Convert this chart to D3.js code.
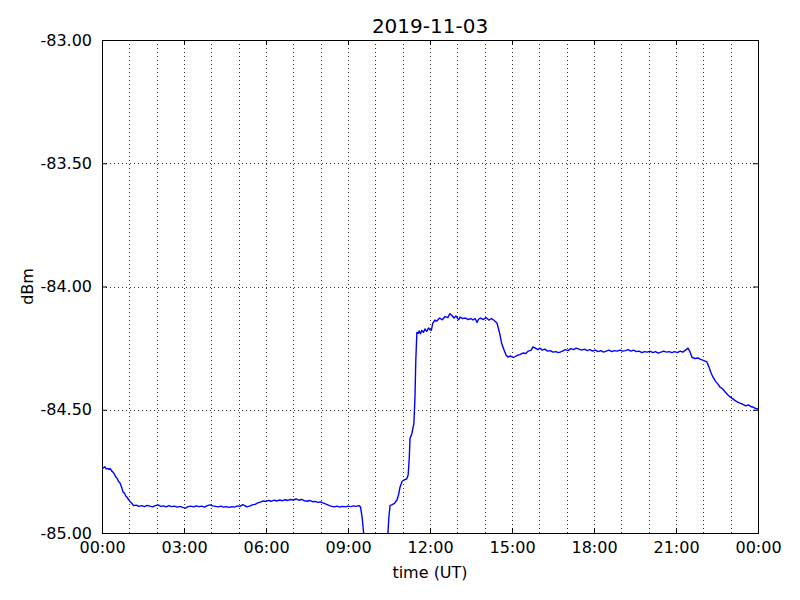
<!DOCTYPE html>
<html>
<head>
<meta charset="utf-8">
<script src="https://cdn.jsdelivr.net/npm/d3@7"></script>
<style>
  html, body { margin: 0; padding: 0; background: #fff; }
  text { font-family: "DejaVu Sans", sans-serif; fill: #000; }
</style>
</head>
<body>
<svg id="chart" width="800" height="600"></svg>
<script>
const title = "2019-11-03";
const xLabel = "time (UT)";
const yLabel = "dBm";
const dayStart = "2019-11-03T00:00:00Z";
const yTickValues = [-85.0, -84.5, -84.0, -83.5, -83.0];

// hours since 00:00 UT
const hours = [
  0.00,0.05,0.10,0.15,0.20,0.25,0.30,0.35,0.40,0.45,0.50,0.55,0.60,0.66,0.72,0.77,0.82,0.87,0.91,0.96,
  1.02,1.10,1.15,1.25,1.35,1.45,1.55,1.65,1.75,1.85,1.95,2.05,2.15,2.25,2.35,2.45,2.55,2.65,2.75,2.85,
  2.95,3.05,3.15,3.25,3.35,3.45,3.55,3.65,3.75,3.85,3.95,4.05,4.15,4.25,4.35,4.45,4.55,4.65,4.75,4.85,
  4.95,5.05,5.15,5.22,5.30,5.40,5.50,5.60,5.70,5.80,5.90,6.00,6.10,6.20,6.30,6.40,6.50,6.60,6.70,6.80,
  6.90,7.00,7.10,7.20,7.30,7.40,7.50,7.60,7.70,7.80,7.90,8.00,8.10,8.20,8.30,8.40,8.50,8.60,8.70,8.80,
  8.90,9.00,9.10,9.20,9.30,9.40,9.46,9.52,9.58,9.62,10.00,10.40,10.46,10.50,10.54,10.60,10.70,10.79,10.85,10.90,
  10.98,11.05,11.15,11.20,11.24,11.27,11.33,11.41,11.45,11.48,11.52,11.57,11.60,11.65,11.70,11.76,11.82,11.88,11.95,12.00,
  12.05,12.10,12.18,12.25,12.35,12.45,12.55,12.65,12.73,12.80,12.88,12.95,13.05,13.10,13.20,13.30,13.40,13.50,13.57,13.65,
  13.72,13.78,13.85,13.95,14.05,14.15,14.25,14.35,14.45,14.55,14.62,14.70,14.78,14.85,14.95,15.05,15.18,15.28,15.40,15.50,
  15.60,15.70,15.77,15.85,15.95,16.02,16.10,16.20,16.30,16.40,16.50,16.60,16.70,16.76,16.85,16.95,17.05,17.15,17.25,17.35,
  17.45,17.55,17.65,17.75,17.85,17.95,18.05,18.15,18.25,18.35,18.45,18.55,18.65,18.75,18.85,18.95,19.05,19.15,19.25,19.35,
  19.45,19.55,19.65,19.75,19.85,19.95,20.05,20.15,20.25,20.35,20.45,20.55,20.65,20.75,20.85,20.95,21.05,21.15,21.25,21.35,
  21.44,21.50,21.59,21.70,21.80,21.90,22.00,22.13,22.20,22.28,22.35,22.45,22.55,22.61,22.70,22.80,22.90,22.98,23.08,23.18,
  23.28,23.34,23.45,23.55,23.65,23.75,23.82,23.90,24.00
];
const dbm = [
  -84.733,-84.736,-84.731,-84.740,-84.738,-84.742,-84.739,-84.748,-84.753,-84.760,-84.772,-84.778,-84.790,-84.797,-84.815,-84.834,-84.838,-84.850,-84.854,-84.862,
  -84.872,-84.880,-84.889,-84.887,-84.892,-84.889,-84.893,-84.888,-84.891,-84.894,-84.889,-84.886,-84.892,-84.890,-84.894,-84.889,-84.893,-84.891,-84.895,-84.892,
  -84.896,-84.899,-84.893,-84.891,-84.894,-84.890,-84.893,-84.891,-84.895,-84.889,-84.886,-84.890,-84.892,-84.894,-84.891,-84.895,-84.893,-84.896,-84.893,-84.895,
  -84.890,-84.892,-84.885,-84.889,-84.894,-84.891,-84.886,-84.884,-84.878,-84.875,-84.870,-84.872,-84.868,-84.871,-84.867,-84.870,-84.866,-84.869,-84.865,-84.868,
  -84.864,-84.866,-84.862,-84.867,-84.864,-84.869,-84.871,-84.868,-84.873,-84.872,-84.876,-84.874,-84.879,-84.883,-84.888,-84.892,-84.894,-84.891,-84.895,-84.892,
  -84.894,-84.891,-84.893,-84.890,-84.892,-84.889,-84.895,-84.940,-85.010,-85.100,-85.300,-85.100,-85.000,-84.930,-84.888,-84.886,-84.880,-84.866,-84.845,-84.815,
  -84.790,-84.785,-84.780,-84.765,-84.700,-84.615,-84.600,-84.556,-84.450,-84.300,-84.186,-84.190,-84.180,-84.192,-84.178,-84.186,-84.172,-84.182,-84.168,-84.176,
  -84.178,-84.150,-84.136,-84.140,-84.128,-84.135,-84.122,-84.126,-84.110,-84.118,-84.128,-84.120,-84.135,-84.124,-84.130,-84.128,-84.134,-84.130,-84.136,-84.130,
  -84.146,-84.132,-84.128,-84.134,-84.126,-84.136,-84.130,-84.138,-84.148,-84.190,-84.230,-84.255,-84.278,-84.286,-84.282,-84.288,-84.280,-84.276,-84.270,-84.272,
  -84.262,-84.258,-84.245,-84.250,-84.256,-84.250,-84.258,-84.254,-84.262,-84.260,-84.266,-84.264,-84.268,-84.266,-84.262,-84.256,-84.260,-84.252,-84.256,-84.250,
  -84.254,-84.258,-84.254,-84.260,-84.256,-84.262,-84.258,-84.264,-84.260,-84.266,-84.262,-84.258,-84.264,-84.260,-84.262,-84.258,-84.262,-84.260,-84.256,-84.262,
  -84.258,-84.264,-84.262,-84.268,-84.264,-84.266,-84.262,-84.268,-84.264,-84.270,-84.266,-84.262,-84.266,-84.264,-84.268,-84.264,-84.268,-84.262,-84.266,-84.258,
  -84.250,-84.262,-84.288,-84.292,-84.290,-84.296,-84.300,-84.306,-84.325,-84.350,-84.367,-84.385,-84.398,-84.408,-84.415,-84.428,-84.440,-84.448,-84.456,-84.464,
  -84.470,-84.473,-84.478,-84.484,-84.480,-84.488,-84.489,-84.494,-84.497
];

const margin = {left: 102, top: 40, right: 42, bottom: 67};
const W = 800, H = 600;
const iw = W - margin.left - margin.right;
const ih = H - margin.top - margin.bottom;

const t0 = new Date(dayStart);
const t1 = d3.utcDay.offset(t0, 1);
const data = hours.map((h, i) => ({t: new Date(t0.getTime() + h * 3600000), v: dbm[i]}));

const x = d3.scaleUtc().domain([t0, t1]).range([0, iw]);
const y = d3.scaleLinear().domain([-85, -83]).range([ih, 0]);

const svg = d3.select("#chart");
const g = svg.append("g").attr("transform", `translate(${margin.left},${margin.top})`);

svg.append("defs").append("clipPath").attr("id", "clip")
  .append("rect").attr("width", iw).attr("height", ih);

// grid
const hourTicks = d3.utcHour.every(1).range(t0, d3.utcHour.offset(t1, 1));
g.append("g").selectAll("line").data(hourTicks).join("line")
  .attr("x1", d => Math.round(x(d)) + 0.5).attr("x2", d => Math.round(x(d)) + 0.5)
  .attr("y1", 0).attr("y2", ih)
  .attr("stroke", "#333").attr("stroke-width", 1).attr("stroke-dasharray", "1,3");
g.append("g").selectAll("line").data(yTickValues).join("line")
  .attr("x1", 0).attr("x2", iw)
  .attr("y1", d => Math.round(y(d)) + 0.5).attr("y2", d => Math.round(y(d)) + 0.5)
  .attr("stroke", "#333").attr("stroke-width", 1).attr("stroke-dasharray", "1,3");

// line
const line = d3.line().x(d => x(d.t)).y(d => y(d.v));
g.append("path").datum(data)
  .attr("clip-path", "url(#clip)")
  .attr("fill", "none").attr("stroke", "#0000ff").attr("stroke-width", 1.4)
  .attr("stroke-linejoin", "round")
  .attr("d", line);

// axes
const majorX = d3.utcHour.every(3).range(t0, d3.utcHour.offset(t1, 1));
const fmtX = d3.utcFormat("%H:%M");
const fmtY = v => v.toFixed(2);

const xAxis = d3.axisBottom(x).tickValues(majorX).tickFormat(fmtX).tickSizeInner(-5).tickSizeOuter(0).tickPadding(9);
const xAxisTop = d3.axisTop(x).tickValues(majorX).tickFormat("").tickSizeInner(-5).tickSizeOuter(0);
const yAxis = d3.axisLeft(y).tickValues(yTickValues).tickFormat(fmtY).tickSizeInner(-5).tickSizeOuter(0).tickPadding(10);
const yAxisR = d3.axisRight(y).tickValues(yTickValues).tickFormat("").tickSizeInner(-5).tickSizeOuter(0);

function style(sel) {
  sel.select(".domain").remove();
  sel.selectAll("text").attr("font-family", "DejaVu Sans").attr("font-size", 16).attr("fill", "#000");
  sel.selectAll("line").attr("stroke", "#000");
}
g.append("g").attr("transform", `translate(0,${ih})`).call(xAxis).call(style);
g.append("g").call(xAxisTop).call(style);
g.append("g").call(yAxis).call(style);
g.append("g").attr("transform", `translate(${iw},0)`).call(yAxisR).call(style);

// frame
g.append("rect").attr("x", 0.5).attr("y", 0.5).attr("width", iw).attr("height", ih)
  .attr("fill", "none").attr("stroke", "#000").attr("stroke-width", 1);

// labels
svg.append("text").attr("x", margin.left + iw / 2).attr("y", 33)
  .attr("text-anchor", "middle").attr("font-size", 20).text(title);
svg.append("text").attr("x", margin.left + iw / 2).attr("y", 578)
  .attr("text-anchor", "middle").attr("font-size", 16).text(xLabel);
svg.append("text").attr("transform", `translate(33,${margin.top + ih / 2}) rotate(-90)`)
  .attr("text-anchor", "middle").attr("font-size", 16).text(yLabel);
</script>
</body>
</html>
